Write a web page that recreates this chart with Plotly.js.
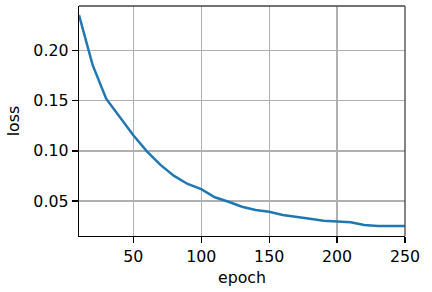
<!DOCTYPE html>
<html>
<head>
<meta charset="utf-8">
<script src="https://cdn.plot.ly/plotly-3.0.1.min.js"></script>
<style>html,body{margin:0;padding:0;background:#fff;}#chart{width:432px;height:292px;}</style>
</head>
<body>
<div id="chart"></div>
<script>
const epochs = [10,20,30,40,50,60,70,80,90,100,110,120,130,140,150,160,170,180,190,200,210,220,230,240,250];
const loss = [0.2355,0.1857,0.1520,0.1340,0.1155,0.0995,0.0860,0.0750,0.0670,0.0618,0.0537,0.0493,0.0443,0.0410,0.0393,0.0360,0.0344,0.0322,0.0304,0.0294,0.0288,0.0260,0.0250,0.0250,0.0250];
const xTicks = [50,100,150,200,250];
const yTicks = [0.05,0.10,0.15,0.20];
const yTickText = ['0.05','0.10','0.15','0.20'];

const font = {family: 'DejaVu Sans', size: 15.8, color: '#000'};
const trace = {
  x: epochs, y: loss, type: 'scatter', mode: 'lines',
  line: {color: '#1f77b4', width: 2.5},
  hoverinfo: 'none'
};
const layout = {
  width: 432, height: 292,
  margin: {l: 79, r: 27, t: 6, b: 56, pad: 0},
  paper_bgcolor: '#fff', plot_bgcolor: '#fff',
  font: font,
  showlegend: false,
  xaxis: {
    range: [10, 250], tickvals: xTicks, ticktext: xTicks.map(String),
    showgrid: true, gridcolor: '#b0b0b0', gridwidth: 1.3,
    showline: true, linecolor: '#000', linewidth: 1.3, mirror: false,
    ticks: 'outside', ticklen: 6, tickwidth: 1.3, tickcolor: '#000',
    zeroline: false, tickfont: font,
    title: {text: 'epoch', font: font, standoff: 6}
  },
  yaxis: {
    range: [0.0151, 0.2445], tickvals: yTicks, ticktext: yTickText,
    showgrid: true, gridcolor: '#b0b0b0', gridwidth: 1.3,
    showline: true, linecolor: '#000', linewidth: 1.3, mirror: false,
    ticks: 'outside', ticklen: 6, tickwidth: 1.3, tickcolor: '#000',
    zeroline: false, tickfont: font,
    title: {text: 'loss', font: font, standoff: 9}
  },
  shapes: [
    {type: 'line', xref: 'paper', yref: 'paper', x0: 0, x1: 1, y0: 1, y1: 1, line: {color: '#444', width: 1.3}},
    {type: 'line', xref: 'paper', yref: 'paper', x0: 1, x1: 1, y0: 0, y1: 1, line: {color: '#444', width: 1.3}}
  ]
};
Plotly.newPlot('chart', [trace], layout, {staticPlot: true, displayModeBar: false});
</script>
</body>
</html>
